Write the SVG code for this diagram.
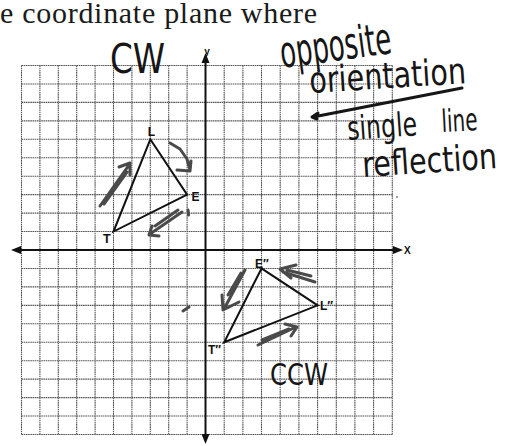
<svg xmlns="http://www.w3.org/2000/svg" width="514" height="446" viewBox="0 0 514 446">
<style>
.grid{fill:none;stroke:#555;stroke-width:1.1;stroke-dasharray:1.6 0.6}
.axis{fill:none;stroke:#111;stroke-width:2}
.head{fill:#111}
.tri{fill:none;stroke:#111;stroke-width:2;stroke-linejoin:miter}
.lbl{font-family:"Liberation Sans",Arial,sans-serif;fill:#111;font-weight:bold}
.pen{fill:none;stroke:#4a4a4a;stroke-width:3;stroke-linecap:round;stroke-linejoin:round}
.hand{font-family:"DejaVu Sans",sans-serif;fill:#161616}
.ink{fill:none;stroke:#161616;stroke-width:3;stroke-linecap:round;stroke-linejoin:round}
</style>
<rect width="514" height="446" fill="#fff"/>
<text x="0" y="23" font-family="Liberation Serif,Times New Roman,serif" font-size="30" fill="#1a1a1a" textLength="317" lengthAdjust="spacing">e coordinate plane where</text>

<g id="grid">
<path class="grid" d="M21.5,65.5V434.5M39.9,65.5V434.5M58.3,65.5V434.5M76.7,65.5V434.5M95.1,65.5V434.5M113.5,65.5V434.5M131.9,65.5V434.5M150.3,65.5V434.5M168.7,65.5V434.5M187.1,65.5V434.5M224.2,65.5V434.5M242.9,65.5V434.5M261.5,65.5V434.5M280.2,65.5V434.5M298.9,65.5V434.5M317.6,65.5V434.5M336.3,65.5V434.5M354.9,65.5V434.5M373.6,65.5V434.5M392.3,65.5V434.5
M21.5,65.5H392.3M21.5,83.95H392.3M21.5,102.4H392.3M21.5,120.85H392.3M21.5,139.3H392.3M21.5,157.75H392.3M21.5,176.2H392.3M21.5,194.65H392.3M21.5,213.1H392.3M21.5,231.55H392.3M21.5,268.45H392.3M21.5,286.9H392.3M21.5,305.35H392.3M21.5,323.8H392.3M21.5,342.25H392.3M21.5,360.7H392.3M21.5,379.15H392.3M21.5,397.6H392.3M21.5,416.05H392.3M21.5,434.5H392.3"/>
</g>

<g id="axes">
<path class="axis" d="M205.5,60V437M18,250H396"/>
<path class="head" d="M205.5,53L201.5,63H209.5ZM205.5,444L201.5,434H209.5ZM11,250L21,246V254ZM403,250L393,246V254Z"/>
<text class="lbl" x="207" y="55" font-size="10" text-anchor="middle">y</text>
<text class="lbl" x="404" y="254" font-size="10">X</text>
</g>

<g id="connectors">
<path class="tri" d="M150.3,139.3L187.1,194.65L113.5,231.55Z"/>
<path class="tri" d="M261.5,268.45L317.6,305.35L224.2,342.25Z"/>
<path class="pen" d="M100,206L129,165M104,204L127,172M119,167L130,163L130,175"/>
<path class="pen" d="M170,143L180,149L187,159L190,170M177,170L190,171L191,161"/>
<path class="pen" d="M182,212L150,234M178,210L155,226M159,236L149,235L152,226M188,210L188.6,215"/>
<path class="pen" d="M245,270L224,309M241,273L228,295M222,295L223,310L239,302"/>
<path class="pen" d="M315,282L283,272M311,276L287,270M296,265L280,269L291,278"/>
<path class="pen" d="M258,345L296,327M262,340L289,329M285,324L297,327L291,336"/>
<path class="pen" d="M183,311L189,307"/>
<path class="ink" d="M313,117L462,88M318,113L312,117L317,119"/>
</g>

<g id="node-L"><text class="lbl" x="151.5" y="136" font-size="12" text-anchor="middle">L</text></g>
<g id="node-E"><text class="lbl" x="191.5" y="200.5" font-size="12">E</text></g>
<g id="node-T"><text class="lbl" x="103" y="243" font-size="12.5">T</text></g>
<g id="node-E2"><text class="lbl" x="255" y="267.5" font-size="12">E″</text></g>
<g id="node-L2"><text class="lbl" x="320" y="310" font-size="12">L″</text></g>
<g id="node-T2"><text class="lbl" x="208" y="354" font-size="12">T″</text></g>

<g id="notes">
<text class="hand" x="110" y="73" font-size="40" textLength="55" lengthAdjust="spacingAndGlyphs">CW</text>
<text class="hand" x="270" y="385" font-size="31" textLength="58" lengthAdjust="spacingAndGlyphs">CCW</text>
<text class="hand" transform="translate(282,68) rotate(-7.7)" font-size="44" textLength="112" lengthAdjust="spacingAndGlyphs">opposite</text>
<text class="hand" transform="translate(310,93) rotate(-3.6)" font-size="36" textLength="157" lengthAdjust="spacingAndGlyphs">orientation</text>
<text class="hand" transform="translate(348,140) rotate(-4)" font-size="33" textLength="70" lengthAdjust="spacingAndGlyphs">single</text>
<text class="hand" transform="translate(442,132) rotate(-3)" font-size="31" textLength="36" lengthAdjust="spacingAndGlyphs">line</text>
<text class="hand" transform="translate(363,177) rotate(-3.8)" font-size="35" textLength="135" lengthAdjust="spacingAndGlyphs">reflection</text>
<circle cx="397" cy="197" r="0.9" fill="#777"/>
</g>
</svg>
